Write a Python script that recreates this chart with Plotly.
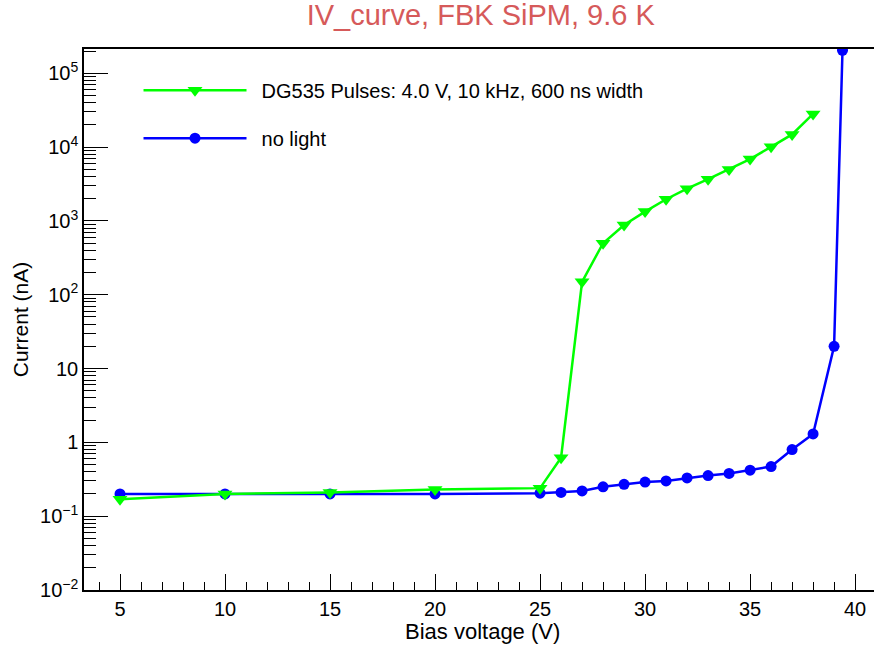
import plotly.graph_objects as go
import numpy as np

# Data
v_dark = [5, 10, 15, 20, 25, 26, 27, 28, 29, 30, 31, 32, 33, 34, 35, 36, 37, 38, 39, 39.4]
i_dark = [0.20, 0.20, 0.20, 0.20, 0.205, 0.21, 0.22, 0.25, 0.27, 0.29, 0.30, 0.33, 0.355, 0.38, 0.42, 0.47, 0.80, 1.3, 20, 2.05e5]

v_light = [5, 10, 15, 20, 25, 26, 27, 28, 29, 30, 31, 32, 33, 34, 35, 36, 37, 38]
i_light = [0.17, 0.20, 0.21, 0.23, 0.24, 0.62, 150, 500, 880, 1340, 1970, 2740, 3680, 5000, 6900, 10100, 14900, 28200]

y_tickvals = [1e-2, 1e-1, 1, 10, 1e2, 1e3, 1e4, 1e5]
y_ticktext = ["10<sup>−2</sup>", "10<sup>−1</sup>", "1", "10", "10<sup>2</sup>", "10<sup>3</sup>", "10<sup>4</sup>", "10<sup>5</sup>"]
x_tickvals = [5, 10, 15, 20, 25, 30, 35, 40]

y_minor = [m * 10.0 ** e for e in range(-2, 6) for m in range(2, 10)]

fig = go.Figure()
fig.add_trace(go.Scatter(
    x=v_dark, y=i_dark, mode="lines+markers", name="\u2002no light",
    line=dict(color="#0000ff", width=2.5),
    marker=dict(symbol="circle", size=11, color="#0000ff"),
    legendgroup="b", legendrank=2,
))
fig.add_trace(go.Scatter(
    x=v_light, y=i_light, mode="lines+markers",
    name="\u2002DG535 Pulses: 4.0 V, 10 kHz, 600 ns width",
    line=dict(color="#00ff00", width=2.5),
    marker=dict(symbol="triangle-down", size=13, color="#00ff00"),
    legendgroup="g", legendrank=1,
))

font = "Liberation Sans, Arial, Helvetica, sans-serif"
fig.update_layout(
    width=874, height=646,
    margin=dict(l=84, r=0, t=49, b=56),
    paper_bgcolor="white", plot_bgcolor="white",
    font=dict(family=font, color="black", size=20),
    title=dict(text="IV_curve, FBK SiPM, 9.6 K", x=0.550, xanchor="center",
               y=0.977, yanchor="middle",
               font=dict(size=29, color="#d65a5a", family=font)),
    legend=dict(x=0.069, y=0.96, xanchor="left", yanchor="top",
                bgcolor="rgba(0,0,0,0)", borderwidth=0,
                font=dict(size=20, family=font),
                traceorder="grouped", tracegroupgap=19,
                itemwidth=103),
    showlegend=True,
    annotations=[dict(text="Bias voltage (V)", xref="paper", yref="paper",
                      x=0.505, y=-0.0776, xanchor="center", yanchor="middle",
                      showarrow=False, font=dict(size=22, family=font))],
)
fig.update_xaxes(
    range=[3.286, 40.9], showgrid=False, zeroline=False,
    showline=True, linecolor="black", linewidth=1.5, mirror=True,
    ticks="inside", ticklen=16, tickwidth=1.2, tickcolor="black",
    tickvals=x_tickvals, tickfont=dict(size=20),
    minor=dict(ticks="inside", ticklen=8, dtick=1, tick0=0, tickcolor="black", tickwidth=1.2),
)
fig.update_yaxes(
    type="log", range=[-2, 5.33], showgrid=False, zeroline=False,
    showline=True, linecolor="black", linewidth=1.5,
    ticks="inside", ticklen=24, tickwidth=1.2, tickcolor="black",
    tickvals=y_tickvals, ticktext=y_ticktext, tickfont=dict(size=20),
    minor=dict(ticks="inside", ticklen=12, tickvals=y_minor, tickcolor="black", tickwidth=1.2),
    title=dict(text="Current (nA)", font=dict(size=21), standoff=6),
)
fig.write_html("out.html")
